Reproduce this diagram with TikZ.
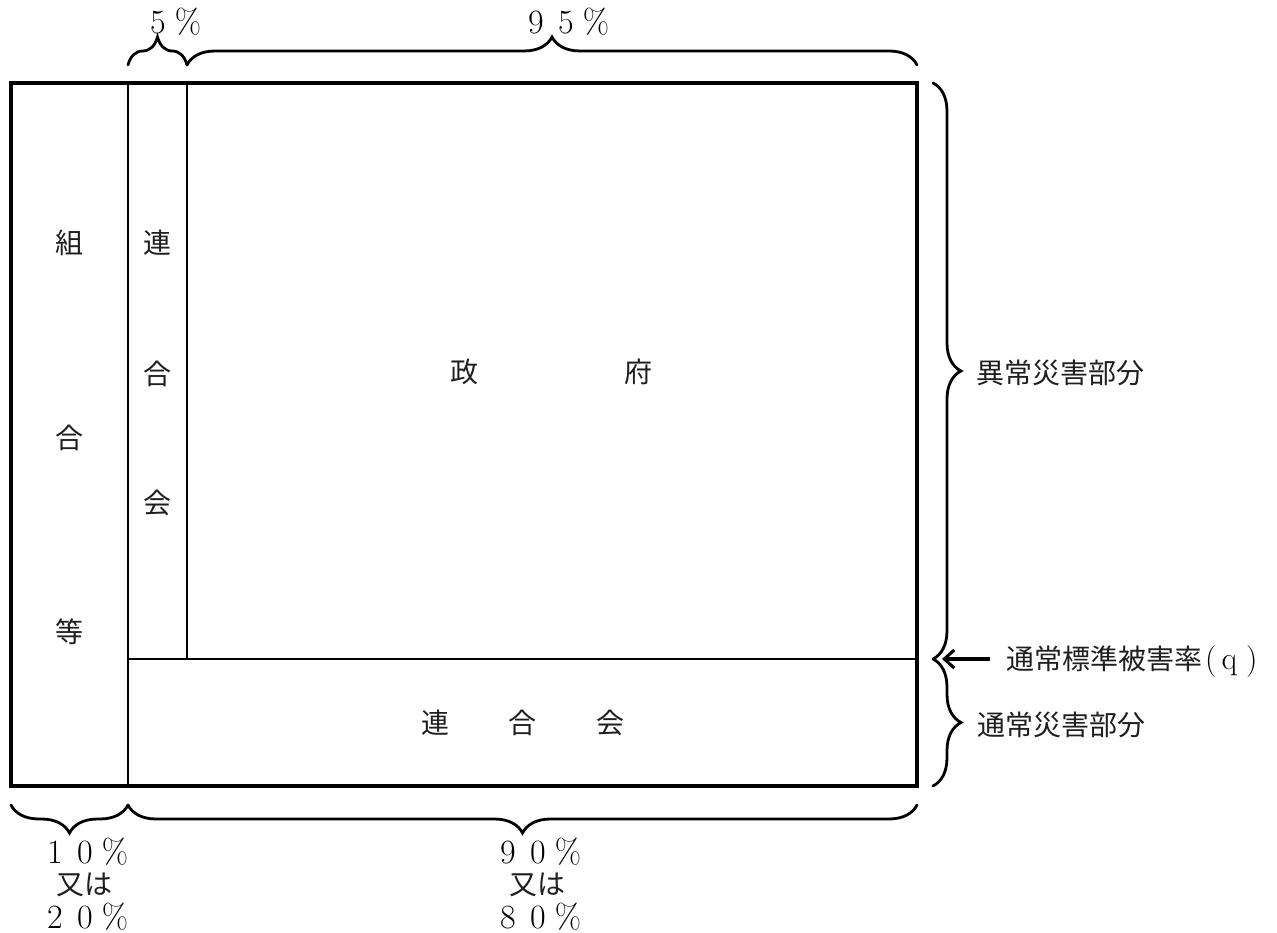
\documentclass[tikz,border=0pt]{standalone}
\usepackage{fontspec}
\newfontfamily\jpfont{Noto Sans CJK JP}
\usetikzlibrary{decorations.pathreplacing,arrows.meta}
\newcommand\fwc[1]{\makebox[30pt]{#1}}
\begin{document}
\begin{tikzpicture}[x=1pt,y=-1pt,
  jlab/.style={font=\jpfont\fontsize{28}{32}\selectfont, inner sep=0pt, text=black!88},
  nlab/.style={font=\fontsize{34}{38}\selectfont, inner sep=0pt, text=black},
  bracestyle/.style={decorate, decoration={brace, amplitude=28pt}, line width=2.8pt, line cap=round},
  frame/.style={line width=4pt},
  divider/.style={line width=2pt}]
\useasboundingbox (0,0) rectangle (1277,933);

% frame and dividers
\coordinate (tl) at (11,83);
\coordinate (br) at (917,786);
\coordinate (c1t) at (128,83);
\coordinate (c1b) at (128,786);
\coordinate (c2t) at (187,83);
\coordinate (c2b) at (187,659);
\coordinate (hl) at (128,659);
\coordinate (hr) at (917,659);
\draw[divider] (c1t) -- (c1b);
\draw[divider] (c2t) -- (c2b);
\draw[divider] (hl) -- (hr);
\draw[frame] (tl) rectangle (br);

% inner labels
\node[jlab] (k1) at (69,243) {組};
\node[jlab] (k2) at (69,438) {合};
\node[jlab] (k3) at (69,632) {等};
\node[jlab] (r1) at (157,243) {連};
\node[jlab] (r2) at (157,374) {合};
\node[jlab] (r3) at (157,503) {会};
\node[jlab] (g1) at (464,372) {政};
\node[jlab] (g2) at (638,372) {府};
\node[jlab] (b1) at (435,723) {連};
\node[jlab] (b2) at (522,723) {合};
\node[jlab] (b3) at (610,723) {会};

% top braces
\coordinate (t0) at (128,65);
\coordinate (t1) at (187,65);
\coordinate (t2) at (917,65);
\draw[bracestyle] (t0) -- (t1);
\draw[bracestyle] (t1) -- (t2);
\node[nlab] (p5) at (173,22) {\fwc{5}\fwc{\%}};
\node[nlab] (p95) at (566,22) {\fwc{9}\fwc{5}\fwc{\%}};

% bottom braces
\coordinate (u0) at (11,805);
\coordinate (u1) at (128,805);
\coordinate (u2) at (917,805);
\draw[bracestyle] (u1) -- (u0);
\draw[bracestyle] (u2) -- (u1);
\node[nlab] (p10) at (85,852) {\fwc{1}\fwc{0}\fwc{\%}};
\node[jlab] (p10or) at (84,885) {又は};
\node[nlab] (p20) at (85,917) {\fwc{2}\fwc{0}\fwc{\%}};
\node[nlab] (p90) at (538,852) {\fwc{9}\fwc{0}\fwc{\%}};
\node[jlab] (p90or) at (537,885) {又は};
\node[nlab] (p80) at (538,917) {\fwc{8}\fwc{0}\fwc{\%}};

% right braces
\coordinate (v0) at (933,83);
\coordinate (v1) at (933,659);
\coordinate (v2) at (933,786);
\draw[bracestyle] (v0) -- (v1);
\draw[bracestyle] (v1) -- (v2);
\node[jlab, anchor=west] (abn) at (976,373) {異常災害部分};
\node[jlab, anchor=west] (nor) at (977,725) {通常災害部分};
\node[jlab, anchor=west] (qlab) at (1006,662) {通常標準被害率\hspace{3pt}{\rmfamily\fontsize{32}{36}\selectfont\color{black}(\hspace{5pt}q\hspace{9pt})}};

% arrow to q level
\coordinate (qtip) at (942,659);
\coordinate (qtail) at (990,659);
\draw[{Straight Barb[length=10pt,width=18pt,line width=3pt]}-, line width=3.4pt] (qtip) -- (qtail);
\end{tikzpicture}
\end{document}
